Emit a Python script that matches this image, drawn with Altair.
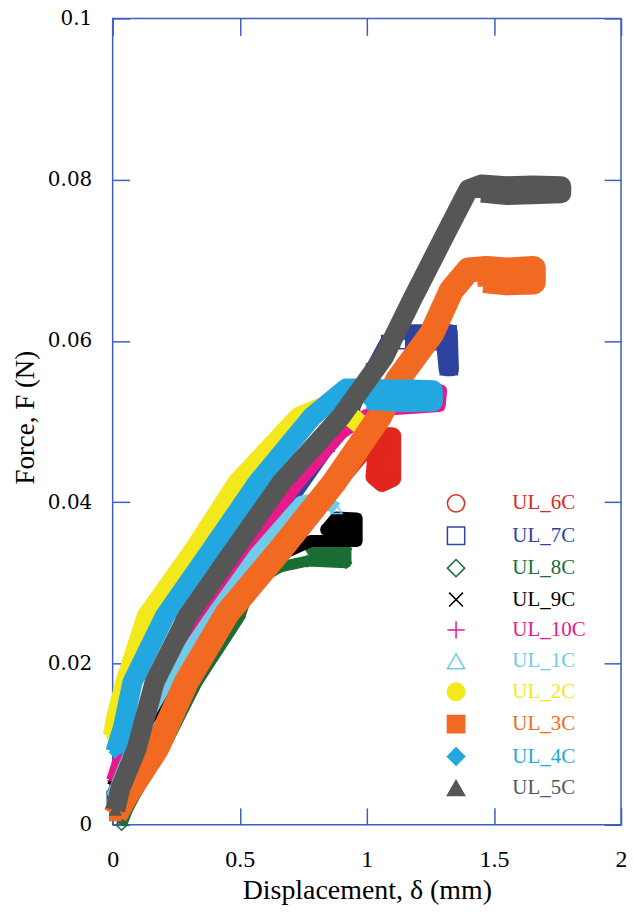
import altair as alt
import pandas as pd

# ---- series (legend order) ----
series_names = ["UL_6C", "UL_7C", "UL_8C", "UL_9C", "UL_10C",
                "UL_1C", "UL_2C", "UL_3C", "UL_4C", "UL_5C"]

# ---- values: displacement (mm), force (N) ----
x_6c = [0.02, 0.06, 0.18, 0.30, 0.46, 0.66, 0.87, 0.99, 1.06, 1.10, 1.10, 1.06, 1.03, 1.035, 1.07, 1.07]
y_6c = [0.0020, 0.0040, 0.0095, 0.0177, 0.0258, 0.0340, 0.0420, 0.0465, 0.0482, 0.0482, 0.0430, 0.0424, 0.0432, 0.0450, 0.0465, 0.0440]

x_7c = [0.0, 0.05, 0.12, 0.25, 0.42, 0.65, 0.85, 0.95, 1.02, 1.08, 1.15, 1.25, 1.33, 1.335, 1.31, 1.30, 1.15]
y_7c = [0.0035, 0.0075, 0.0125, 0.0195, 0.0290, 0.0380, 0.0470, 0.0520, 0.0565, 0.0600, 0.0612, 0.0612, 0.0612, 0.0565, 0.0565, 0.0597, 0.0597]

x_8c = [0.035, 0.06, 0.12, 0.20, 0.333, 0.50, 0.53, 0.58, 0.66, 0.765, 0.918, 0.918, 0.78, 0.80, 0.90]
y_8c = [0.0000, 0.0020, 0.0055, 0.0094, 0.0177, 0.0258, 0.0285, 0.0305, 0.0320, 0.0327, 0.0325, 0.0342, 0.0342, 0.0333, 0.0334]

x_9c = [0.0, 0.04, 0.12, 0.25, 0.42, 0.58, 0.66, 0.78, 0.96, 0.96, 0.88, 0.84, 0.95]
y_9c = [0.0048, 0.0075, 0.0120, 0.0180, 0.0250, 0.0310, 0.0335, 0.0352, 0.0352, 0.0380, 0.0381, 0.0366, 0.0366]

x_10c = [0.0, 0.03, 0.10, 0.20, 0.35, 0.53, 0.73, 0.90, 1.0, 1.1, 1.2, 1.285, 1.29, 1.27]
y_10c = [0.0055, 0.0085, 0.0125, 0.0180, 0.0258, 0.0341, 0.0424, 0.0486, 0.0508, 0.0516, 0.0518, 0.0520, 0.0538, 0.0540]

x_1c = [0.0, 0.05, 0.12, 0.22, 0.38, 0.56, 0.74, 0.82, 0.88]
y_1c = [0.0035, 0.0075, 0.0125, 0.0180, 0.0255, 0.0335, 0.0400, 0.0405, 0.0392]

x_2c = [0.0, 0.015, 0.05, 0.133, 0.32, 0.49, 0.733, 0.84, 0.93, 1.0]
y_2c = [0.0110, 0.0135, 0.0177, 0.0258, 0.0341, 0.0424, 0.0506, 0.0520, 0.0508, 0.0490]

x_3c = [0.01, 0.05, 0.172, 0.29, 0.45, 0.66, 0.87, 1.05, 1.12, 1.255, 1.333, 1.40, 1.47, 1.55, 1.655, 1.655, 1.55, 1.46]
y_3c = [0.0012, 0.0035, 0.0094, 0.0177, 0.0262, 0.0341, 0.0424, 0.0506, 0.0551, 0.0609, 0.0663, 0.0688, 0.0690, 0.0688, 0.0690, 0.0673, 0.0672, 0.0675]

x_4c = [0.01, 0.04, 0.078, 0.204, 0.388, 0.569, 0.784, 0.918, 0.98, 1.08, 1.18, 1.26, 1.26, 1.15, 1.0]
y_4c = [0.0090, 0.0120, 0.0177, 0.0258, 0.0341, 0.0424, 0.0506, 0.0541, 0.0541, 0.0540, 0.0540, 0.0539, 0.0525, 0.0524, 0.0527]

x_5c = [0.01, 0.03, 0.094, 0.165, 0.294, 0.478, 0.663, 0.898, 1.067, 1.176, 1.31, 1.40, 1.45, 1.55, 1.65, 1.765, 1.765, 1.65, 1.55, 1.45]
y_5c = [0.0018, 0.0045, 0.0094, 0.0177, 0.0258, 0.0341, 0.0424, 0.0506, 0.0580, 0.0650, 0.0733, 0.0788, 0.0794, 0.0792, 0.0793, 0.0792, 0.0783, 0.0782, 0.0781, 0.0784]

all_x = [x_6c, x_7c, x_8c, x_9c, x_10c, x_1c, x_2c, x_3c, x_4c, x_5c]
all_y = [y_6c, y_7c, y_8c, y_9c, y_10c, y_1c, y_2c, y_3c, y_4c, y_5c]

x_ticks = [0, 0.5, 1, 1.5, 2]
y_ticks = [0, 0.02, 0.04, 0.06, 0.08, 0.1]

# ---- styles ----
colors = ["#e0261f", "#2e43a0", "#1b6d36", "#000000", "#e8198b",
          "#70cbea", "#f2e81c", "#f26a21", "#22a7e0", "#565656"]
fills = ["transparent"] * 6 + colors[6:]
plus_path = "M-1,0L1,0M0,-1L0,1"
cross_path = "M-0.8,-0.8L0.8,0.8M-0.8,0.8L0.8,-0.8"
shapes = ["circle", "square", "diamond", cross_path, plus_path,
          "triangle-up", "circle", "square", "diamond", "triangle-up"]
band_widths = [18, 14, 11, 12, 13, 13, 20, 25, 20, 20]
frame_color = "#3f5fbf"

rows = []
for name, xs, ys in zip(series_names, all_x, all_y):
    for i, (xv, yv) in enumerate(zip(xs, ys)):
        rows.append({"series": name, "x": xv, "y": yv, "i": i})
df = pd.DataFrame(rows)

xscale = alt.Scale(domain=[0, 2], nice=False)
yscale = alt.Scale(domain=[0, 0.1], nice=False)

legend = alt.Legend(
    title=None, orient="none", legendX=334, legendY=476,
    labelFont="Liberation Serif", labelFontSize=21,
    labelColor=alt.ExprRef(expr="scale('color', datum.value)"),
    symbolSize=300, symbolStrokeWidth=1.5, labelOffset=46,
    rowPadding=7.5, padding=0, labelLimit=0,
)
color_enc = alt.Color("series:N", scale=alt.Scale(domain=series_names, range=colors), legend=legend)
fill_enc = alt.Fill("series:N", scale=alt.Scale(domain=series_names, range=fills), legend=legend)
shape_enc = alt.Shape("series:N", scale=alt.Scale(domain=series_names, range=shapes), legend=legend)

inward = alt.ExprRef(expr="-17")
axis_bottom = alt.Axis(
    orient="bottom", values=x_ticks, format="~g", grid=False, domain=False,
    tickSize=inward, tickColor=frame_color, tickWidth=1.5,
    labelFont="Liberation Serif", labelFontSize=24, labelColor="black",
    labelPadding=40, labelFlush=False, labelOverlap=False,
    title="Displacement, δ (mm)", titleFont="Liberation Serif", titleFontSize=28,
    titleFontWeight="normal", titleColor="black", titleY=74, titleBaseline="alphabetic",
)
axis_left = alt.Axis(
    orient="left", values=y_ticks, format="~g", grid=False, domain=False,
    tickSize=inward, tickColor=frame_color, tickWidth=1.5,
    labelFont="DejaVu Serif", labelFontSize=20, labelColor="black",
    labelPadding=38, labelFlush=False, labelOverlap=False,
    title="Force, F (N)", titleFont="Liberation Serif", titleFontSize=27,
    titleFontWeight="normal", titleColor="black", titleX=-79, titleY=400,
    titleBaseline="alphabetic",
)
axis_top = alt.Axis(orient="top", values=x_ticks, grid=False, domain=False, labels=False,
                    tickSize=inward, tickColor=frame_color, tickWidth=1.5, title=None)
axis_right = alt.Axis(orient="right", values=y_ticks, grid=False, domain=False, labels=False,
                      tickSize=inward, tickColor=frame_color, tickWidth=1.5, title=None)

layers = []
for k, name in enumerate(series_names):
    base = alt.Chart(df).transform_filter(alt.datum.series == name)
    if k == 0:
        xa, ya = axis_bottom, axis_left
    else:
        xa, ya = None, None
    line = base.mark_line(
        color=colors[k], strokeWidth=band_widths[k], strokeJoin="round", strokeCap="butt"
    ).encode(
        x=alt.X("x:Q", scale=xscale, axis=xa),
        y=alt.Y("y:Q", scale=yscale, axis=ya),
        order="i:Q",
    )
    if k == 0:
        xp, yp = axis_top, axis_right
    else:
        xp, yp = None, None
    pts = base.mark_point(filled=False, opacity=1, size=120, strokeWidth=1.5).encode(
        x=alt.X("x:Q", scale=xscale, axis=xp),
        y=alt.Y("y:Q", scale=yscale, axis=yp),
        color=color_enc, fill=fill_enc, shape=shape_enc,
    )
    layers += [line, pts]

chart = alt.layer(*layers).resolve_axis(x="independent", y="independent").properties(
    width=510, height=809,
    autosize=alt.AutoSizeParams(type="none"),
    padding={"left": 105, "top": 9, "right": 5, "bottom": 82},
).configure_view(stroke=frame_color, strokeWidth=1.5)

chart.save("out.html", embed_options={"renderer": "svg", "actions": False})
